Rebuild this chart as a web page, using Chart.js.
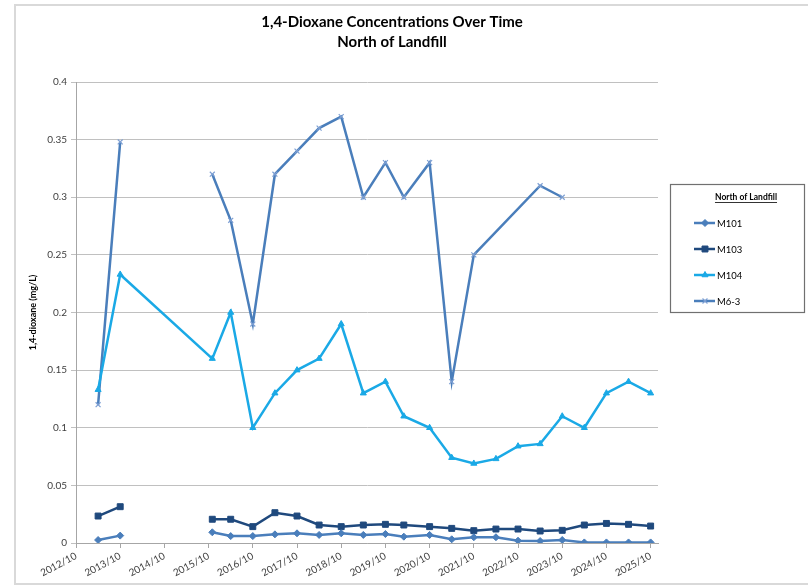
<!DOCTYPE html>
<html>
<head>
<meta charset="utf-8">
<script src="https://cdn.jsdelivr.net/npm/chart.js@4.4.1/dist/chart.umd.min.js"></script>
<style>
  html, body { margin: 0; padding: 0; background: #fff; }
  #wrap { width: 808px; height: 586px; }
</style>
</head>
<body>
<div id="wrap"><canvas id="dioxaneChart" width="808" height="586"></canvas></div>
<script>
// sample dates (yyyy/mm) and concentrations in mg/L
const sampleDates = ['2013/04', '2013/10', '2015/11', '2016/04', '2016/10', '2017/04', '2017/10', '2018/04',
    '2018/10', '2019/04', '2019/10', '2020/03', '2020/10', '2021/04', '2021/10', '2022/04', '2022/10',
    '2023/04', '2023/10', '2024/04', '2024/10', '2025/04', '2025/10'];

const m101 = [0.0026, 0.0064, 0.0093, 0.006, 0.006, 0.0075, 0.0084, 0.007, 0.0084, 0.007, 0.0078, 0.0055,
    0.007, 0.0032, 0.005, 0.005, 0.002, 0.0017, 0.0026, 0.0005, 0.0005, 0.0005, 0.0005];
const m103 = [0.0234, 0.0315, 0.0206, 0.0206, 0.0142, 0.0263, 0.0234, 0.0156, 0.0142, 0.0156, 0.0162, 0.0156,
    0.0142, 0.0127, 0.0107, 0.0121, 0.0121, 0.0104, 0.011, 0.0156, 0.017, 0.0162, 0.0147];
const m104 = [0.133, 0.233, 0.16, 0.2, 0.1, 0.13, 0.15, 0.16, 0.19, 0.13, 0.14, 0.11,
    0.1, 0.074, 0.069, 0.073, 0.084, 0.086, 0.11, 0.1, 0.13, 0.14, 0.13];
const m63 = [0.12, 0.348, 0.32, 0.28, 0.19, 0.32, 0.34, 0.36, 0.37, 0.3, 0.33, 0.3,
    0.33, 0.14, 0.25, null, null, 0.31, 0.3, null, null, null, null];

const xTickLabels = ['2012/10', '2013/10', '2014/10', '2015/10', '2016/10', '2017/10', '2018/10',
    '2019/10', '2020/10', '2021/10', '2022/10', '2023/10', '2024/10', '2025/10'];
const yTicks = [0, 0.05, 0.1, 0.15, 0.2, 0.25, 0.3, 0.35, 0.4];

const FONT = 'Lato, "Open Sans", sans-serif';

// months since 2012/10
function toMonths(s) {
    let p = s.split('/');
    return (parseInt(p[0]) - 2012) * 12 + (parseInt(p[1]) - 10);
}

function points(vals) {
    return sampleDates
        .map((d, i) => ({ x: toMonths(d), y: vals[i] }))
        .filter(p => p.y !== null);
}

// frame + title + boxed legend like the excel chart
const decorPlugin = {
    id: 'decor',
    beforeDraw(chart) {
        const ctx = chart.ctx;
        ctx.save();
        ctx.fillStyle = '#fff';
        ctx.fillRect(0, 0, chart.width, chart.height);
        ctx.strokeStyle = '#d9d9d9';
        ctx.lineWidth = 2;
        ctx.strokeRect(15, 5, 820, 579);
        ctx.restore();
    },
    afterDraw(chart) {
        const ctx = chart.ctx;
        ctx.save();
        ctx.fillStyle = '#000';
        ctx.textAlign = 'center';
        ctx.textBaseline = 'middle';
        ctx.font = 'bold 15px ' + FONT;
        ctx.fillText('1,4-Dioxane Concentrations Over Time', 392, 22);
        ctx.fillText('North of Landfill', 392, 42);

        // legend
        ctx.strokeStyle = '#707070';
        ctx.lineWidth = 1.2;
        ctx.strokeRect(670.5, 184.5, 134, 128);
        ctx.font = 'bold 8.5px ' + FONT;
        ctx.fillText('North of Landfill', 746, 197);
        let w = ctx.measureText('North of Landfill').width;
        ctx.lineWidth = 0.8;
        ctx.strokeStyle = '#000';
        ctx.beginPath();
        ctx.moveTo(746 - w / 2, 202.5);
        ctx.lineTo(746 + w / 2, 202.5);
        ctx.stroke();

        ctx.font = '9.5px ' + FONT;
        ctx.textAlign = 'left';
        chart.data.datasets.forEach((ds, i) => {
            let y = 223 + i * 26;
            ctx.strokeStyle = ds.borderColor;
            ctx.lineWidth = ds.borderWidth;
            ctx.beginPath();
            ctx.moveTo(694, y);
            ctx.lineTo(715, y);
            ctx.stroke();
            ctx.fillStyle = ds.pointBackgroundColor;
            ctx.strokeStyle = ds.pointBorderColor;
            ctx.lineWidth = ds.pointBorderWidth;
            Chart.helpers.drawPoint(ctx, {
                pointStyle: ds.pointStyle,
                radius: ds.pointRadius,
                borderWidth: ds.pointBorderWidth,
                rotation: 0
            }, 705, y);
            ctx.fillStyle = '#000';
            ctx.fillText(ds.label, 717, y + 0.5);
        });
        ctx.restore();
    }
};

const ctx = document.getElementById('dioxaneChart').getContext('2d');

new Chart(ctx, {
    type: 'line',
    data: {
        datasets: [{
            label: 'M101',
            data: points(m101),
            borderColor: '#4a7ebb',
            backgroundColor: '#4a7ebb',
            pointBackgroundColor: '#4a7ebb',
            pointBorderColor: '#4a7ebb',
            pointStyle: 'rectRot',
            pointRadius: 3.5,
            pointBorderWidth: 1,
            borderWidth: 2.5,
            spanGaps: 20
        }, {
            label: 'M103',
            data: points(m103),
            borderColor: '#1f497d',
            backgroundColor: '#1f497d',
            pointBackgroundColor: '#1f497d',
            pointBorderColor: '#1f497d',
            pointStyle: 'rect',
            pointRadius: 4.2,
            pointBorderWidth: 1,
            borderWidth: 2.5,
            spanGaps: 20
        }, {
            label: 'M104',
            data: points(m104),
            borderColor: '#1aa9e6',
            backgroundColor: '#1aa9e6',
            pointBackgroundColor: '#1aa9e6',
            pointBorderColor: '#1aa9e6',
            pointStyle: 'triangle',
            pointRadius: 3.5,
            pointBorderWidth: 1,
            borderWidth: 2.5,
            spanGaps: true
        }, {
            label: 'M6-3',
            data: points(m63),
            borderColor: '#4a7ebb',
            backgroundColor: '#7d9fd3',
            pointBackgroundColor: '#7d9fd3',
            pointBorderColor: '#7d9fd3',
            pointStyle: 'crossRot',
            pointRadius: 3.5,
            pointBorderWidth: 1.2,
            borderWidth: 2.5,
            spanGaps: 20
        }]
    },
    options: {
        responsive: false,
        animation: false,
        layout: {
            padding: { left: 18, right: 150, top: 82, bottom: 0 }
        },
        plugins: {
            legend: { display: false },
            title: { display: false },
            tooltip: { enabled: false }
        },
        scales: {
            x: {
                type: 'linear',
                min: 0,
                max: 158,
                afterBuildTicks: function(scale) {
                    scale.ticks = xTickLabels.map(l => ({ value: toMonths(l) }));
                },
                afterFit: function(scale) {
                    scale.height = 43;
                },
                grid: {
                    drawOnChartArea: false,
                    drawTicks: true,
                    tickLength: 5,
                    color: '#a6a6a6'
                },
                border: { display: true, color: '#a6a6a6', width: 1 },
                ticks: {
                    autoSkip: false,
                    minRotation: 28,
                    maxRotation: 28,
                    padding: 2,
                    color: '#404040',
                    font: { family: FONT, size: 10 },
                    callback: function(value) {
                        let l = xTickLabels.find(t => toMonths(t) === value);
                        return l || '';
                    }
                }
            },
            y: {
                min: 0,
                max: 0.4,
                afterBuildTicks: function(scale) {
                    scale.ticks = yTicks.map(v => ({ value: v }));
                },
                afterFit: function(scale) {
                    scale.width = 58;
                },
                grid: {
                    color: '#c0c0c0',
                    lineWidth: 1,
                    tickLength: 5
                },
                border: { display: true, color: '#a6a6a6', width: 1 },
                ticks: {
                    padding: 4,
                    color: '#404040',
                    font: { family: FONT, size: 10 },
                    callback: v => String(+v.toFixed(2))
                },
                title: {
                    display: true,
                    text: '1,4-dioxane (mg/L)',
                    color: '#000',
                    padding: { top: 10, bottom: 0 },
                    font: { family: FONT, size: 9, weight: 'bold' }
                }
            }
        }
    },
    plugins: [decorPlugin]
});
</script>
</body>
</html>
